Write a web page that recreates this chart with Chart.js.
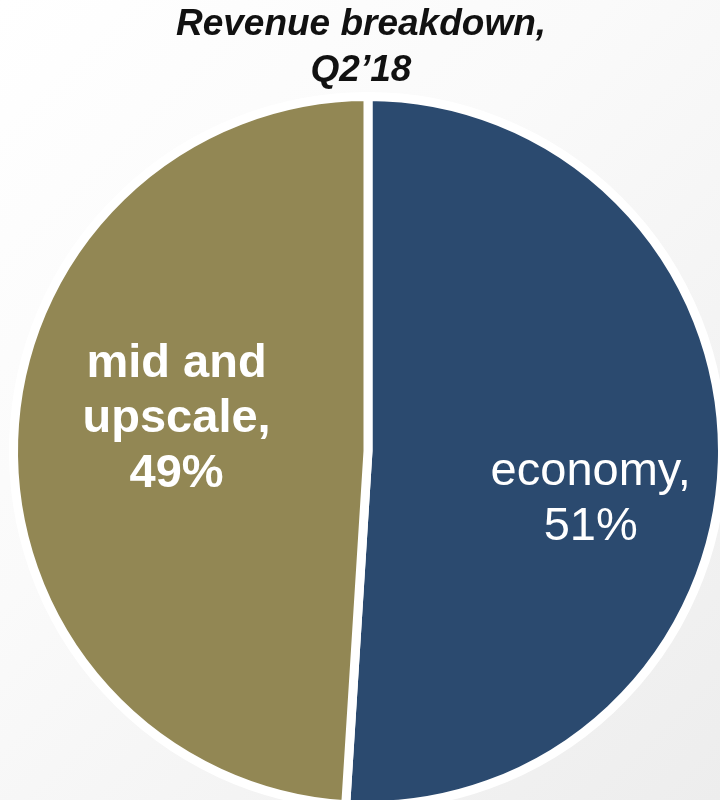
<!DOCTYPE html>
<html>
<head>
<meta charset="utf-8">
<script src="https://cdn.jsdelivr.net/npm/chart.js@4/dist/chart.umd.min.js"></script>
<style>
    html, body {
        margin: 0;
        padding: 0;
        width: 720px;
        height: 800px;
        overflow: hidden;
        background: linear-gradient(135deg, #ffffff 0%, #fafafa 40%, #ededed 100%);
    }
    .wrap {
        position: relative;
        width: 720px;
        height: 800px;
        overflow: hidden;
    }
    #title {
        position: absolute;
        left: 0;
        top: 0;
        width: 722px;
        text-align: center;
        font: italic bold 37px/46px 'Liberation Sans', Arial, sans-serif;
        color: #111111;
    }
    canvas {
        display: block;
        position: absolute;
        left: 0;
        top: 0;
    }
</style>
</head>
<body>
<div class="wrap">
    <!-- canvas a bit bigger than the window: the slide crops the pie at the bottom -->
    <canvas id="revenueChart" width="740" height="820"></canvas>
    <div id="title"></div>
</div>
<script>
const titleLines = ["Revenue breakdown,", "Q2\u201918"];
const categories = ["economy", "mid and upscale"];
const shares = [51, 49];
const sliceColors = ["#2b4a6f", "#928754"];
// label text split into lines as on the slide
const labelLines = [
    ["economy,", "51%"],
    ["mid and", "upscale,", "49%"]
];
const labelBold = [false, true];
const labelRadius = [0.64, 0.55];

document.getElementById("title").innerHTML = titleLines.join("<br>");

const sliceLabels = {
    id: "sliceLabels",
    afterDatasetsDraw(chart) {
        const ctx = chart.ctx;
        const meta = chart.getDatasetMeta(0);
        meta.data.forEach((arc, i) => {
            const p = arc.getProps(["x", "y", "startAngle", "endAngle", "outerRadius"], true);
            const mid = (p.startAngle + p.endAngle) / 2 + 0.16;
            const r = p.outerRadius * labelRadius[i];
            const x = p.x + Math.cos(mid) * r;
            const y = p.y + Math.sin(mid) * r + 5;
            const lines = labelLines[i];
            const lh = 55;
            ctx.save();
            ctx.fillStyle = "#ffffff";
            ctx.textAlign = "center";
            ctx.textBaseline = "middle";
            ctx.font = (labelBold[i] ? "bold " : "") + "47px 'Liberation Sans', Arial, sans-serif";
            lines.forEach((t, k) => {
                ctx.fillText(t, x, y + (k - (lines.length - 1) / 2) * lh);
            });
            ctx.restore();
        });
    }
};

new Chart(document.getElementById("revenueChart"), {
    type: "pie",
    data: {
        labels: categories,
        datasets: [{
                data: shares,
                backgroundColor: sliceColors,
                borderColor: "#ffffff",
                borderWidth: 9
            }]
    },
    options: {
        responsive: false,
        animation: false,
        layout: {
            padding: {left: 9, right: 13, top: 92, bottom: 10}
        },
        plugins: {
            legend: {display: false},
            tooltip: {enabled: false},
            title: {display: false}
        }
    },
    plugins: [sliceLabels]
});
</script>
</body>
</html>
